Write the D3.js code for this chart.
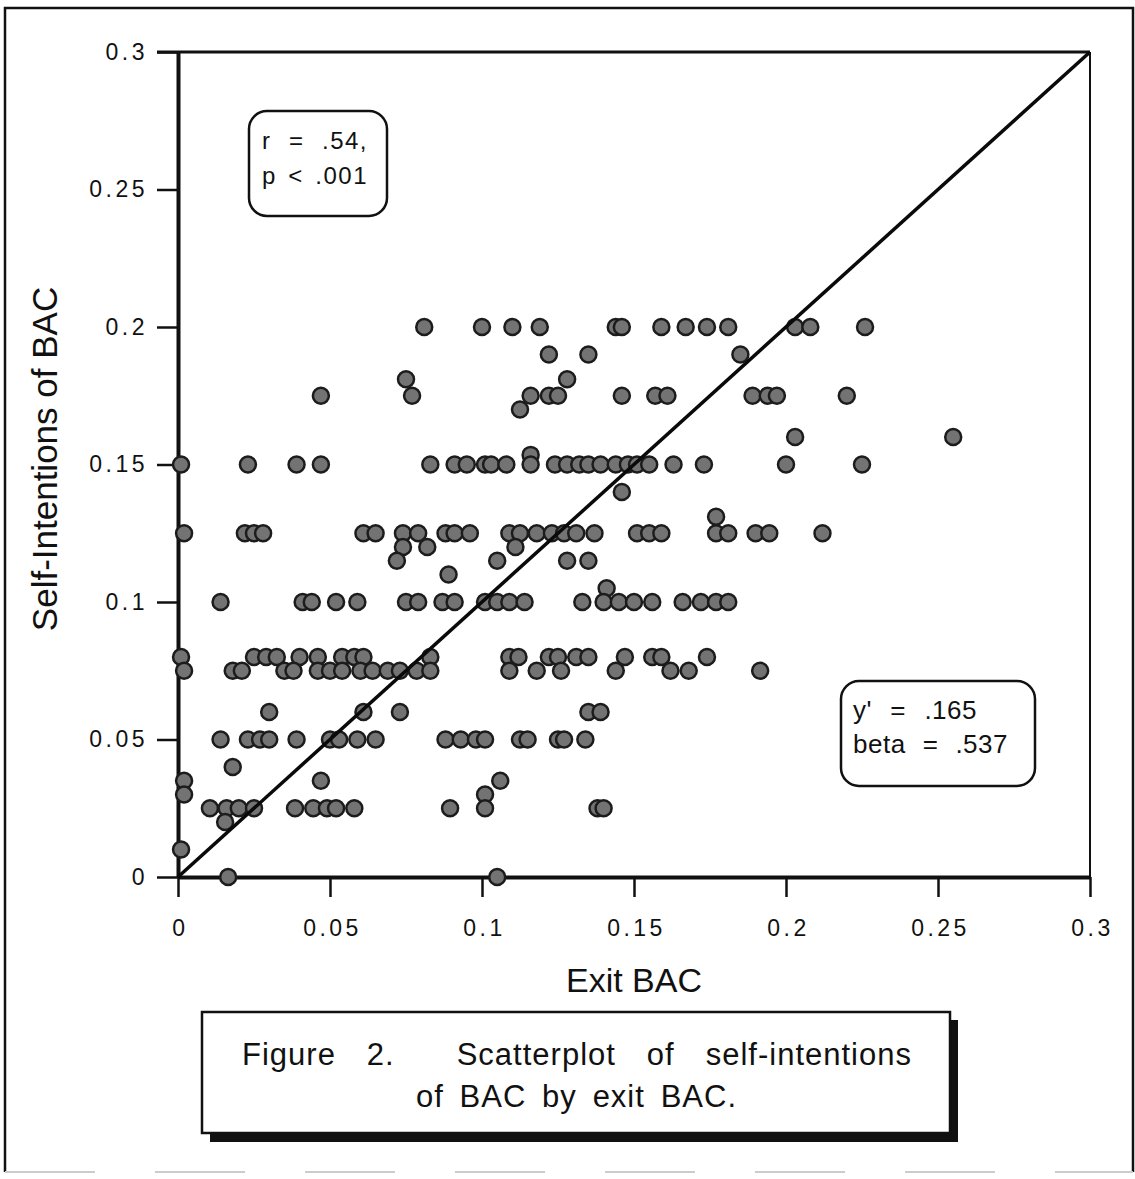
<!DOCTYPE html>
<html>
<head>
<meta charset="utf-8">
<script src="https://cdn.jsdelivr.net/npm/d3@7/dist/d3.min.js"></script>
<style>
  body { margin: 0; background: #fff; }
  svg { display: block; font-family: "Liberation Sans", Arial, Helvetica, sans-serif; }
</style>
</head>
<body>
<svg id="chart" width="1135" height="1179"></svg>
<script>
// tick values for both axes
var xTicks = [0, 0.05, 0.1, 0.15, 0.2, 0.25, 0.3]
var yTicks = [0, 0.05, 0.1, 0.15, 0.2, 0.25, 0.3]

// exit BAC (x) and self-intended BAC (y)
var exitBAC = [
  0.081, 0.100, 0.110, 0.119, 0.144, 0.146, 0.159, 0.167, 0.174, 0.181, 0.203, 0.208, 0.226,
  0.122, 0.135, 0.185,
  0.075, 0.128,
  0.047, 0.077, 0.116, 0.122, 0.125, 0.146, 0.157, 0.161, 0.189, 0.194, 0.197, 0.220,
  0.1125,
  0.203, 0.255,
  0.001, 0.023, 0.039, 0.047, 0.083, 0.091, 0.095, 0.101, 0.103, 0.108, 0.116, 0.116, 0.124, 0.128,
  0.132, 0.135, 0.139, 0.144, 0.148, 0.151, 0.155, 0.163, 0.173, 0.200, 0.225,
  0.146,
  0.177,
  0.002, 0.022, 0.025, 0.028, 0.061, 0.065, 0.074, 0.079, 0.088, 0.091, 0.096, 0.109, 0.1125,
  0.118, 0.123, 0.127, 0.131, 0.137, 0.151, 0.155, 0.159, 0.177, 0.181, 0.190, 0.1945, 0.212,
  0.074, 0.082, 0.111,
  0.072, 0.105, 0.128, 0.135,
  0.089,
  0.141,
  0.014, 0.041, 0.044, 0.052, 0.059, 0.075, 0.079, 0.087, 0.091, 0.101, 0.105, 0.109, 0.114,
  0.133, 0.140, 0.145, 0.150, 0.156, 0.166, 0.172, 0.177, 0.181,
  0.001, 0.025, 0.029, 0.0325, 0.040, 0.046, 0.054, 0.058, 0.061, 0.083, 0.109, 0.112, 0.122,
  0.125, 0.131, 0.135, 0.147, 0.156, 0.159, 0.174,
  0.002, 0.018, 0.021, 0.035, 0.038, 0.046, 0.050, 0.054, 0.060, 0.064, 0.069, 0.073, 0.0785,
  0.083, 0.109, 0.118, 0.126, 0.144, 0.162, 0.168, 0.1915,
  0.030, 0.061, 0.073, 0.135, 0.139,
  0.014, 0.023, 0.027, 0.030, 0.039, 0.050, 0.053, 0.059, 0.065, 0.088, 0.093, 0.098, 0.101,
  0.1125, 0.115, 0.125, 0.127, 0.134,
  0.018,
  0.002, 0.047, 0.106,
  0.002, 0.101,
  0.0105, 0.016, 0.020, 0.025, 0.0385, 0.0445, 0.049, 0.052, 0.058, 0.0895, 0.101, 0.138, 0.140,
  0.0155,
  0.001,
  0.0165, 0.105
]
var selfBAC = [
  0.2, 0.2, 0.2, 0.2, 0.2, 0.2, 0.2, 0.2, 0.2, 0.2, 0.2, 0.2, 0.2,
  0.19, 0.19, 0.19,
  0.181, 0.181,
  0.175, 0.175, 0.175, 0.175, 0.175, 0.175, 0.175, 0.175, 0.175, 0.175, 0.175, 0.175,
  0.17,
  0.16, 0.16,
  0.15, 0.15, 0.15, 0.15, 0.15, 0.15, 0.15, 0.15, 0.15, 0.15, 0.1535, 0.15, 0.15, 0.15,
  0.15, 0.15, 0.15, 0.15, 0.15, 0.15, 0.15, 0.15, 0.15, 0.15, 0.15,
  0.14,
  0.131,
  0.125, 0.125, 0.125, 0.125, 0.125, 0.125, 0.125, 0.125, 0.125, 0.125, 0.125, 0.125, 0.125,
  0.125, 0.125, 0.125, 0.125, 0.125, 0.125, 0.125, 0.125, 0.125, 0.125, 0.125, 0.125, 0.125,
  0.12, 0.12, 0.12,
  0.115, 0.115, 0.115, 0.115,
  0.11,
  0.105,
  0.1, 0.1, 0.1, 0.1, 0.1, 0.1, 0.1, 0.1, 0.1, 0.1, 0.1, 0.1, 0.1,
  0.1, 0.1, 0.1, 0.1, 0.1, 0.1, 0.1, 0.1, 0.1,
  0.08, 0.08, 0.08, 0.08, 0.08, 0.08, 0.08, 0.08, 0.08, 0.08, 0.08, 0.08, 0.08,
  0.08, 0.08, 0.08, 0.08, 0.08, 0.08, 0.08,
  0.075, 0.075, 0.075, 0.075, 0.075, 0.075, 0.075, 0.075, 0.075, 0.075, 0.075, 0.075, 0.075,
  0.075, 0.075, 0.075, 0.075, 0.075, 0.075, 0.075, 0.075,
  0.06, 0.06, 0.06, 0.06, 0.06,
  0.05, 0.05, 0.05, 0.05, 0.05, 0.05, 0.05, 0.05, 0.05, 0.05, 0.05, 0.05, 0.05,
  0.05, 0.05, 0.05, 0.05, 0.05,
  0.04,
  0.035, 0.035, 0.035,
  0.03, 0.03,
  0.025, 0.025, 0.025, 0.025, 0.025, 0.025, 0.025, 0.025, 0.025, 0.025, 0.025, 0.025, 0.025,
  0.02,
  0.01,
  0, 0
]

var statsLines = ['r = .54,', 'p < .001']
var fitLines = ["y' = .165", 'beta = .537']
var captionLines = ['Figure 2.  Scatterplot of self-intentions', 'of BAC by exit BAC.']

var svg = d3.select('#chart')
var x = d3.scaleLinear().domain([0, 0.3]).range([178, 1090])
var y = d3.scaleLinear().domain([0, 0.3]).range([877, 52])

function fmt(d) { return d === 0 ? '0' : String(+d.toFixed(2)) }

// stretch the gaps between words until the line is w pixels wide
function spreadWords(sel, w) {
  var node = sel.node()
  var natural = node.getComputedTextLength()
  var gaps = (sel.text().match(/ /g) || []).length
  if (gaps > 0 && w > natural) sel.style('word-spacing', ((w - natural) / gaps) + 'px')
}

// outer frame of the page
svg.append('path')
  .attr('d', 'M5,1172 L5,8 L1133,8 L1133,1172')
  .attr('fill', 'none').attr('stroke', '#111').attr('stroke-width', 2.5)
svg.append('line')
  .attr('x1', 5).attr('x2', 1133).attr('y1', 1172).attr('y2', 1172)
  .attr('stroke', '#ccc').attr('stroke-width', 2).attr('stroke-dasharray', '90,60')

var plot = svg.append('g')

// top and right borders of the plot area
plot.append('line')
  .attr('x1', x(0) - 21).attr('x2', x(0.3)).attr('y1', y(0.3)).attr('y2', y(0.3))
  .attr('stroke', '#111').attr('stroke-width', 3)
plot.append('line')
  .attr('x1', x(0.3)).attr('x2', x(0.3)).attr('y1', y(0.3)).attr('y2', y(0))
  .attr('stroke', '#111').attr('stroke-width', 2)

var yAxis = plot.append('g')
  .attr('transform', 'translate(' + x(0) + ',0)')
  .call(d3.axisLeft(y).tickValues(yTicks).tickSize(21).tickSizeOuter(0).tickPadding(9).tickFormat(fmt))
var xAxis = plot.append('g')
  .attr('transform', 'translate(0,' + y(0) + ')')
  .call(d3.axisBottom(x).tickValues(xTicks).tickSize(20).tickSizeOuter(0).tickPadding(23).tickFormat(fmt))

;[xAxis, yAxis].forEach(function(a) {
  a.attr('font-family', null).attr('font-size', null)
  a.select('.domain').attr('stroke', '#111').attr('stroke-width', 4)
  a.selectAll('.tick line').attr('stroke', '#111').attr('stroke-width', 2.5)
  a.selectAll('.tick text')
    .attr('fill', '#111')
    .style('font-size', '23px')
    .style('letter-spacing', '3.5px')
})
xAxis.selectAll('.tick text').attr('dx', '2px')

// dots
var pts = d3.zip(exitBAC, selfBAC)
plot.append('g').selectAll('circle')
  .data(pts)
  .enter()
  .append('circle')
  .attr('cx', function(d) { return x(d[0]) })
  .attr('cy', function(d) { return y(d[1]) })
  .attr('r', 8)
  .attr('fill', '#737373')
  .attr('stroke', '#1c1c1c')
  .attr('stroke-width', 2.5)

// the y = x line
plot.append('line')
  .attr('x1', x(0)).attr('y1', y(0)).attr('x2', x(0.3)).attr('y2', y(0.3))
  .attr('stroke', '#0a0a0a').attr('stroke-width', 3.5)

// axis titles
svg.append('text')
  .attr('x', 634).attr('y', 992)
  .attr('text-anchor', 'middle')
  .style('font-size', '34px').attr('fill', '#111')
  .text('Exit BAC')
svg.append('text')
  .attr('transform', 'translate(57,459) rotate(-90)')
  .attr('text-anchor', 'middle')
  .style('font-size', '35px').attr('fill', '#111')
  .text('Self-Intentions of BAC')

// annotation boxes
function noteBox(bx, by, bw, bh, lines, tx, ty, lh, size, ls, widths) {
  svg.append('rect')
    .attr('x', bx).attr('y', by).attr('width', bw).attr('height', bh)
    .attr('rx', 18).attr('ry', 18)
    .attr('fill', '#fff').attr('stroke', '#111').attr('stroke-width', 2.5)
  lines.forEach(function(t, i) {
    var tt = svg.append('text')
      .attr('x', tx).attr('y', ty + i * lh)
      .style('font-size', size + 'px').style('letter-spacing', ls + 'px')
      .attr('fill', '#111')
      .text(t)
    spreadWords(tt, widths[i])
  })
}
noteBox(249, 111, 138, 105, statsLines, 262, 149, 35, 24, 1.5, [106, 106])
noteBox(841, 681, 194, 105, fitLines, 853, 719, 34, 26, 0.5, [124, 155])

// caption with drop shadow
svg.append('rect')
  .attr('x', 210).attr('y', 1020).attr('width', 748).attr('height', 122)
  .attr('fill', '#111')
svg.append('rect')
  .attr('x', 202).attr('y', 1012).attr('width', 748).attr('height', 121)
  .attr('fill', '#fff').attr('stroke', '#111').attr('stroke-width', 2.5)
var cap1 = svg.append('text')
  .attr('x', 242).attr('y', 1065)
  .style('white-space', 'pre')
  .style('font-size', '31px').style('letter-spacing', '1px')
  .attr('fill', '#111')
  .text(captionLines[0])
spreadWords(cap1, 670)
var cap2 = svg.append('text')
  .attr('x', 416).attr('y', 1107)
  .style('font-size', '31px').style('letter-spacing', '1px')
  .attr('fill', '#111')
  .text(captionLines[1])
spreadWords(cap2, 321)
</script>
</body>
</html>
